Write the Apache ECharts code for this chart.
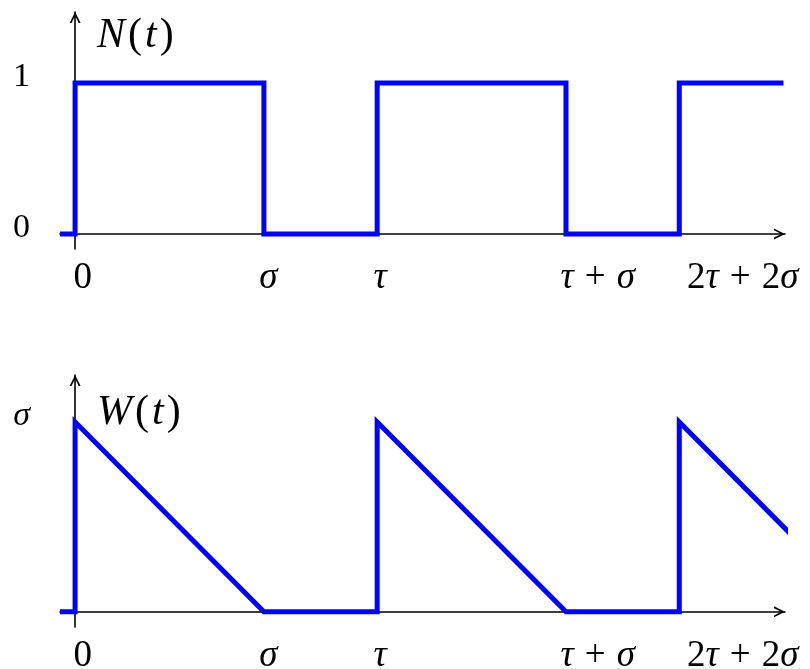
<!DOCTYPE html>
<html>
<head>
<meta charset="utf-8">
<script src="https://cdn.jsdelivr.net/npm/echarts@6/dist/echarts.min.js"></script>
<style>
  html, body { margin: 0; padding: 0; background: #fff; }
  #chart { width: 810px; height: 669px; }
</style>
</head>
<body>
<div id="chart"></div>
<script>
// Time scale: tau = 1, sigma = 0.625
const tN = [-0.05, 0, 0, 0.625, 0.625, 1, 1, 1.625, 1.625, 2, 2, 2.345];
const nValues = [0, 0, 1, 1, 0, 0, 1, 1, 0, 0, 1, 1];

const tW = [-0.05, 0, 0, 0.625, 1, 1, 1.625, 2, 2, 2.375];
const wValues = [0, 0, 0.625, 0, 0, 0.625, 0, 0, 0.625, 0.25];

// Tick labels on the time axis
const xLabelPos = [0.025, 0.64, 1.01, 1.73, 2.21];
const xLabelText = ['{u|0}', '{i|σ}', '{i|τ}', '{i|τ}{o|+}{i|σ}', '{u|2}{i|τ}{o|+}{u|2}{i|σ}'];

// Tick labels on the value axes
const nLabelPos = [0, 1];
const nLabelText = ['{u|0}', '{u|1}'];
const wLabelPos = [0.625];
const wLabelText = ['{i|σ}'];

const SERIF = '"Liberation Serif", "DejaVu Serif", serif';

function richSet(size, opPad) {
  const base = { fontFamily: SERIF, fontSize: size, color: '#000', fontWeight: 'normal' };
  return {
    i: Object.assign({}, base, { fontStyle: 'italic' }),
    u: Object.assign({}, base),
    o: Object.assign({}, base, { padding: [0, opPad || 0] }),
    p: Object.assign({}, base, { padding: [0, 3] })
  };
}

// Open arrowhead whose tip sits at the centre of its box
const ARROW = 'path://M5,0L5.01,0ZM5,10L10,20L8.3,20L5,13.4L1.7,20L0,20Z';

function labelFor(posArr, textArr) {
  return function (v) {
    for (let k = 0; k < posArr.length; k++) {
      if (Math.abs(posArr[k] - v) < 1e-6) return textArr[k];
    }
    return '';
  };
}

function xAxisCfg(gridIndex) {
  return {
    type: 'value', gridIndex: gridIndex, min: -0.05, max: 2.35,
    axisLine: {
      show: true, onZero: true,
      lineStyle: { color: '#000', width: 1.6 },
      symbol: ['none', ARROW], symbolSize: [11, 44]
    },
    axisTick: { show: false },
    splitLine: { show: false },
    axisLabel: {
      customValues: xLabelPos,
      formatter: labelFor(xLabelPos, xLabelText),
      margin: 11,
      rich: richSet(37, 11)
    }
  };
}

function yAxisCfg(gridIndex, min, max, pos, txt) {
  return {
    type: 'value', gridIndex: gridIndex, min: min, max: max,
    axisLine: {
      show: true, onZero: true,
      lineStyle: { color: '#000', width: 1.6 },
      symbol: ['none', ARROW], symbolSize: [11, 44]
    },
    axisTick: { show: false },
    splitLine: { show: false },
    axisLabel: {
      customValues: pos,
      formatter: labelFor(pos, txt),
      margin: 30,
      padding: [0, 0, 12, 0],
      rich: richSet(34)
    }
  };
}

const chart = echarts.init(document.getElementById('chart'), null, { renderer: 'canvas' });

chart.setOption({
  animation: false,
  backgroundColor: '#fff',
  title: [
    {
      text: '{i|N}{p|(}{i|t}{p|)}', left: 97, top: 15, padding: 0,
      textStyle: { fontWeight: 'normal', rich: richSet(42) }
    },
    {
      text: '{i|W}{p|(}{i|t}{p|)}', left: 97, top: 392, padding: 0,
      textStyle: { fontWeight: 'normal', rich: richSet(42) }
    }
  ],
  grid: [
    { left: 60, right: 25, top: 12, height: 237, outerBoundsMode: 'none' },
    { left: 60, right: 25, top: 375, height: 252, outerBoundsMode: 'none' }
  ],
  xAxis: [xAxisCfg(0), xAxisCfg(1)],
  yAxis: [
    yAxisCfg(0, -0.1, 1.47, nLabelPos, nLabelText),
    yAxisCfg(1, -0.05, 0.78, wLabelPos, wLabelText)
  ],
  series: [
    {
      name: 'N(t)', type: 'line', xAxisIndex: 0, yAxisIndex: 0,
      data: tN.map((t, k) => [t, nValues[k]]),
      showSymbol: false, clip: false,
      lineStyle: { color: '#0000ff', width: 5, join: 'miter', cap: 'butt' }
    },
    {
      name: 'W(t)', type: 'line', xAxisIndex: 1, yAxisIndex: 1,
      data: tW.map((t, k) => [t, wValues[k]]),
      showSymbol: false, clip: false,
      lineStyle: { color: '#0000ff', width: 5, join: 'miter', cap: 'butt' }
    }
  ]
});
</script>
</body>
</html>
